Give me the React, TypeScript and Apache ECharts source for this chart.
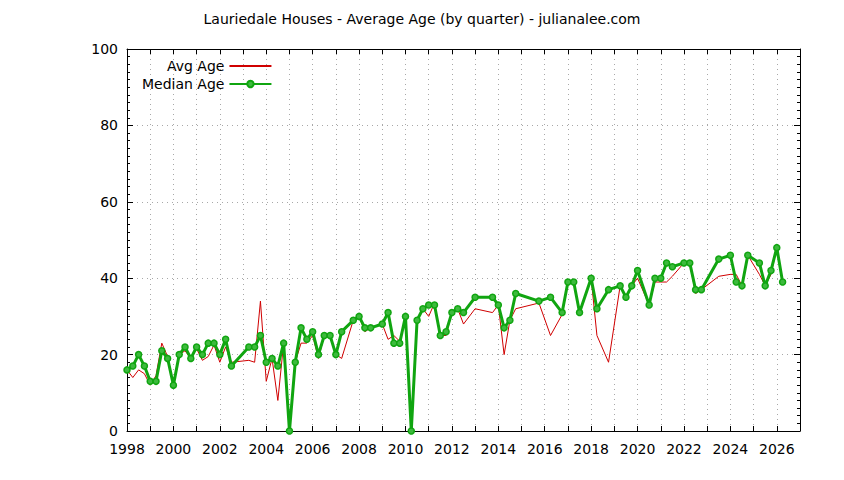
import * as echarts from 'echarts';
import { useEffect, useRef } from 'react';

// quarter start as decimal year
const quarters = [
    1998, 1998.25, 1998.5, 1998.75, 1999, 1999.25, 1999.5, 1999.75,
    2000, 2000.25, 2000.5, 2000.75, 2001, 2001.25, 2001.5, 2001.75,
    2002, 2002.25, 2002.5, 2003.25, 2003.5, 2003.75,
    2004, 2004.25, 2004.5, 2004.75, 2005, 2005.25, 2005.5, 2005.75,
    2006, 2006.25, 2006.5, 2006.75, 2007, 2007.25, 2007.75,
    2008, 2008.25, 2008.5, 2009, 2009.25, 2009.5, 2009.75,
    2010, 2010.25, 2010.5, 2010.75, 2011, 2011.25, 2011.5, 2011.75,
    2012, 2012.25, 2012.5, 2013, 2013.75, 2014, 2014.25, 2014.5, 2014.75,
    2015.75, 2016.25, 2016.75, 2017, 2017.25, 2017.5,
    2018, 2018.25, 2018.75, 2019.25, 2019.5, 2019.75,
    2020, 2020.5, 2020.75, 2021, 2021.25, 2021.5,
    2022, 2022.25, 2022.5, 2022.75, 2023.5,
    2024, 2024.25, 2024.5, 2024.75, 2025.25, 2025.5, 2025.75,
    2026, 2026.25,
];

const avgAge = [
    16, 14, 16, 15, 12, 14.5, 23, 19.5,
    12, 20, 21, 19, 21.5, 18.5, 19.5, 22.5,
    18, 22, 18, 18.5, 18, 34,
    13, 19, 8, 23, 0, 18, 23, 23,
    25, 19, 25, 25, 20, 19, 29,
    30, 26, 27, 28, 24, 25, 23.5,
    30, 0, 29, 32, 30, 33.5, 25, 25,
    31, 32, 28, 32, 31, 33, 20, 29, 32,
    33.5, 25, 30.5, 39, 39, 31,
    40, 25, 18, 38, 35, 38,
    40, 33, 39, 39, 39, 40.5,
    44, 44, 36, 37, 40.5,
    41, 41, 38, 46, 41, 38, 41,
    48, 39,
];

const medianAge = [
    16, 17, 20, 17, 13, 13, 21, 19,
    12, 20, 22, 19, 22, 20, 23, 23,
    20, 24, 17, 22, 22, 25,
    18, 19, 17, 23, 0, 18, 27, 24,
    26, 20, 25, 25, 20, 26, 29,
    30, 27, 27, 28, 31, 23, 23,
    30, 0, 29, 32, 33, 33, 25, 26,
    31, 32, 31, 35, 35, 33, 27, 29, 36,
    34, 35, 31, 39, 39, 31,
    40, 32, 37, 38, 35, 38,
    42, 33, 40, 40, 44, 43,
    44, 44, 37, 37, 45,
    46, 39, 38, 46, 44, 38, 42,
    48, 39,
];

const FONT = 'DejaVu Sans';

const App = () => {
    const chartRef = useRef(null);

    useEffect(() => {
        document.body.style.margin = '0';
        const chart = echarts.init(chartRef.current, null, { renderer: 'svg' });

        const tickLine = { color: '#000', width: 1 };
        const dotted = { color: '#a8a8a8', width: 1, type: [1, 4] };

        const option = {
            animation: false,
            textStyle: { fontFamily: FONT },
            title: {
                text: 'Lauriedale Houses - Average Age (by quarter) - julianalee.com',
                left: 'center',
                top: 12,
                padding: 0,
                textStyle: { fontSize: 14, fontWeight: 'normal', color: '#000', fontFamily: FONT },
            },
            legend: {
                orient: 'vertical',
                align: 'right',
                left: 142,
                top: 59,
                padding: 0,
                itemGap: 4,
                itemWidth: 42,
                itemHeight: 8,
                textStyle: { fontSize: 14, color: '#000', fontFamily: FONT },
                data: [{ name: 'Avg Age', itemStyle: { opacity: 0 } }, { name: 'Median Age' }],
            },
            grid: { left: 127, right: 44, top: 49, bottom: 49 },
            xAxis: [
                {
                    type: 'value',
                    min: 1998,
                    max: 2027,
                    interval: 1,
                    axisLine: { show: true, onZero: false, lineStyle: tickLine },
                    axisTick: { show: true, inside: true, length: 5, lineStyle: tickLine },
                    axisLabel: {
                        color: '#000',
                        fontSize: 14,
                        fontFamily: FONT,
                        margin: 11,
                        formatter: (v) => (v % 2 === 0 ? String(v) : ''),
                    },
                    splitLine: { show: true, lineStyle: dotted },
                },
                {
                    type: 'value',
                    position: 'top',
                    min: 1998,
                    max: 2027,
                    interval: 1,
                    axisLine: { show: true, onZero: false, lineStyle: tickLine },
                    axisTick: { show: true, inside: true, length: 5, lineStyle: tickLine },
                    axisLabel: { show: false },
                    splitLine: { show: false },
                },
            ],
            yAxis: [
                {
                    type: 'value',
                    min: 0,
                    max: 100,
                    interval: 20,
                    axisLine: { show: true, lineStyle: tickLine },
                    axisTick: { show: true, inside: true, length: 6, lineStyle: tickLine },
                    minorTick: { show: true, splitNumber: 10, length: 3, lineStyle: tickLine },
                    axisLabel: { color: '#000', fontSize: 14, fontFamily: FONT, margin: 9 },
                    splitLine: { show: true, lineStyle: dotted },
                },
                {
                    type: 'value',
                    position: 'right',
                    min: 0,
                    max: 100,
                    interval: 20,
                    axisLine: { show: true, lineStyle: tickLine },
                    axisTick: { show: true, inside: true, length: 6, lineStyle: tickLine },
                    minorTick: { show: true, splitNumber: 10, length: 3, lineStyle: tickLine },
                    axisLabel: { show: false },
                    splitLine: { show: false },
                },
            ],
            series: [
                {
                    name: 'Avg Age',
                    type: 'line',
                    xAxisIndex: 0,
                    yAxisIndex: 0,
                    data: quarters.map((q, i) => [q, avgAge[i]]),
                    symbol: 'none',
                    clip: false,
                    lineStyle: { color: '#d00000', width: 1 },
                    itemStyle: { color: '#d00000' },
                },
                {
                    name: 'Median Age',
                    type: 'line',
                    xAxisIndex: 0,
                    yAxisIndex: 0,
                    data: quarters.map((q, i) => [q, medianAge[i]]),
                    symbol: 'circle',
                    symbolSize: 6,
                    clip: false,
                    lineStyle: { color: '#10a510', width: 3 },
                    itemStyle: { color: '#3dba3d', borderColor: '#10a510', borderWidth: 1.5 },
                },
            ],
        };

        chart.setOption(option);

        return () => {
            chart.dispose();
        };
    }, []);

    return <div ref={chartRef} style={{ width: '844px', height: '480px' }} />;
};

export default App;
